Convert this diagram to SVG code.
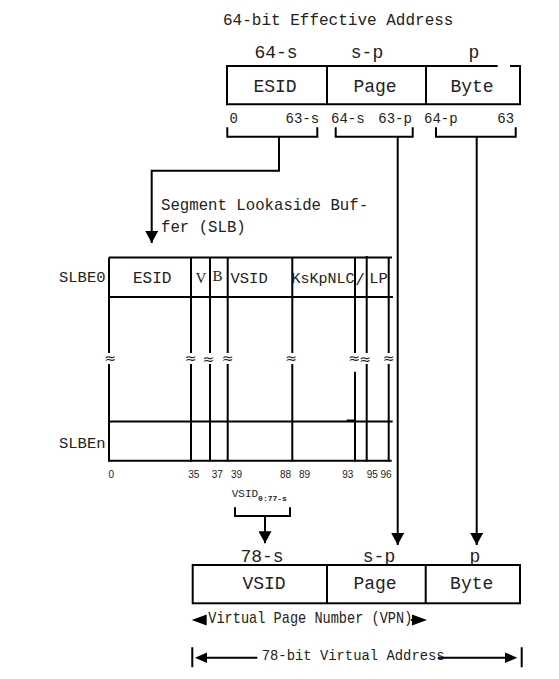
<svg xmlns="http://www.w3.org/2000/svg" width="559" height="679" viewBox="0 0 559 679">
<style>
.ln{stroke:#000;stroke-width:2;fill:none}
.box{stroke:#000;stroke-width:2;fill:#fff}
.mono{font-family:"Liberation Mono","Courier New",monospace;fill:#222}
.serif{font-family:"Liberation Serif","Times New Roman",serif;fill:#222}
.bits{font-family:"Liberation Mono","Courier New",monospace;font-size:14px;fill:#222}
.num{font-family:"Liberation Sans",Arial,sans-serif;font-size:10px;fill:#222}
.cell{font-family:"Liberation Mono","Courier New",monospace;font-size:18px;fill:#222;text-anchor:middle}
.sq{font-family:"DejaVu Sans",sans-serif;font-size:14px;fill:#222;text-anchor:middle}
</style>
<defs>
<marker id="ah" viewBox="0 0 12 13" refX="12" refY="6.5" markerWidth="12" markerHeight="13" orient="auto" markerUnits="userSpaceOnUse"><path d="M0,0 L12,6.5 L0,13 z" fill="#000"/></marker>
</defs>

<text class="mono" x="223" y="25" font-size="16">64-bit Effective Address</text>

<g id="ea">
<text class="cell" x="276" y="58">64-s</text>
<text class="cell" x="367" y="58">s-p</text>
<text class="cell" x="474" y="58">p</text>
<path class="ln" d="M497.7,66 H227 V104.3 H520 V66 H510"/>
<path class="ln" d="M327,66 V104.3 M426,66 V104.3"/>
<text class="cell" x="275" y="91.7">ESID</text>
<text class="cell" x="375" y="91.7">Page</text>
<text class="cell" x="472" y="91.7">Byte</text>
<text class="bits" x="229.5" y="123.3">0</text>
<text class="bits" x="285.5" y="123.3">63-s</text>
<text class="bits" x="331" y="123.3">64-s</text>
<text class="bits" x="378.3" y="123.3">63-p</text>
<text class="bits" x="424" y="123.3">64-p</text>
<text class="bits" x="497.3" y="123.3">63</text>
</g>

<g id="slb-title">
<text class="mono" x="161" y="210" font-size="15.7">Segment Lookaside Buf-</text>
<text class="mono" x="161" y="231.7" font-size="15.7">fer (SLB)</text>
</g>

<g id="slb">
<path class="ln" d="M109,257.5 H392 M109,297 H393 M109,421.5 H392.7 M109,460.7 H391.7"/>
<path class="ln" d="M346.7,420.5 H356"/>
<path class="ln" d="M109,257.5 V461.7 M191,257.5 V461.7 M210,257.5 V461.7 M227.7,257.5 V461.7 M292.3,257.5 V461.7 M355,257.5 V355 M355,371.7 V461.7 M366.7,256 V461.7 M388.7,257.5 V461.7"/>
<text class="mono" x="59" y="282" font-size="15.5">SLBE0</text>
<text class="mono" x="59" y="448.3" font-size="15.5">SLBEn</text>
<text class="mono" x="133" y="282.7" font-size="16">ESID</text>
<text class="serif" x="195.5" y="282.5" font-size="15">V</text>
<text class="serif" x="212.5" y="280.5" font-size="15">B</text>
<text class="mono" x="230.5" y="282.5" font-size="15.5">VSID</text>
<text class="mono" x="291.5" y="282.5" font-size="15">KsKpNLC</text>
<text class="mono" x="360" y="285" font-size="16" text-anchor="middle">/</text>
<text class="mono" x="369.3" y="282.5" font-size="15.5">LP</text>
<g fill="#fff">
<rect x="105" y="353" width="10" height="11"/>
<rect x="185.5" y="353" width="10" height="11"/>
<rect x="203.3" y="353" width="10" height="11"/>
<rect x="222.7" y="353" width="10" height="11"/>
<rect x="286" y="353" width="10" height="11"/>
<rect x="349" y="353" width="10" height="11"/>
<rect x="360" y="353" width="10" height="11"/>
<rect x="383.5" y="353" width="10" height="11"/>
</g>
<text class="sq" x="110" y="363">≈</text>
<text class="sq" x="190.5" y="363">≈</text>
<text class="sq" x="208.3" y="364">≈</text>
<text class="sq" x="227.7" y="363">≈</text>
<text class="sq" x="291" y="363">≈</text>
<text class="sq" x="354" y="363">≈</text>
<text class="sq" x="365" y="364">≈</text>
<text class="sq" x="388.5" y="363">≈</text>
<text class="num" x="108.5" y="478.3">0</text>
<text class="num" x="188.3" y="478.3">35</text>
<text class="num" x="211.7" y="478.3">37</text>
<text class="num" x="231" y="478.3">39</text>
<text class="num" x="280" y="478.3">88</text>
<text class="num" x="299" y="478.3">89</text>
<text class="num" x="342.3" y="478.3">93</text>
<text class="num" x="366.7" y="478.3">95</text>
<text class="num" x="380.5" y="478.3">96</text>
</g>

<g id="vsid-sel">
<text class="mono" x="231.7" y="496.7" font-size="11">VSID<tspan font-size="8" font-weight="bold" dy="4">0:77-s</tspan></text>
</g>

<g id="va">
<text class="cell" x="262" y="561.7">78-s</text>
<text class="cell" x="379" y="561.7">s-p</text>
<text class="cell" x="475" y="561.7">p</text>
<rect class="box" x="192.7" y="565" width="327.3" height="38.3"/>
<path class="ln" d="M327,565 V603.3 M425.7,565 V603.3"/>
<text class="cell" x="264" y="589.3">VSID</text>
<text class="cell" x="375" y="589.3">Page</text>
<text class="cell" x="471.7" y="589.3">Byte</text>
<text class="mono" x="208.3" y="623.3" font-size="17" textLength="204" lengthAdjust="spacingAndGlyphs">Virtual Page Number (VPN)</text>
<text class="mono" x="261.7" y="660" font-size="15.5" textLength="183" lengthAdjust="spacingAndGlyphs">78-bit Virtual Address</text>
</g>

<g id="connectors">
<path class="ln" d="M227.3,127.3 V136.7 H317.3 V127.3 M279,136.7 V170.7 H151.7 V243" marker-end="url(#ah)"/>
<path class="ln" d="M335.7,127.3 V136.7 H412.7 V127.3"/>
<path class="ln" d="M436,127.3 V136.7 H515.7 V127.3"/>
<path class="ln" d="M397.7,136.7 V545" marker-end="url(#ah)"/>
<path class="ln" d="M476.7,136.7 V545" marker-end="url(#ah)"/>
<path class="ln" d="M235,507.3 V516 H290 V507.3"/>
<path class="ln" d="M265,516 V543.3" marker-end="url(#ah)"/>
<polygon points="191.7,620 206.7,614.5 206.7,625.5" fill="#000"/>
<path class="ln" d="M411,620 H414"/>
<polygon points="412,614.5 427,620 412,625.5" fill="#000"/>
<path class="ln" d="M192.3,647.3 V667.3 M521.7,647.3 V667.3"/>
<polygon points="195,657.7 207,652.5 207,663" fill="#000"/>
<path class="ln" d="M206,657.7 H257.3 M438,657.7 H506"/>
<polygon points="505,652.5 517.3,657.7 505,663" fill="#000"/>
</g>
</svg>
